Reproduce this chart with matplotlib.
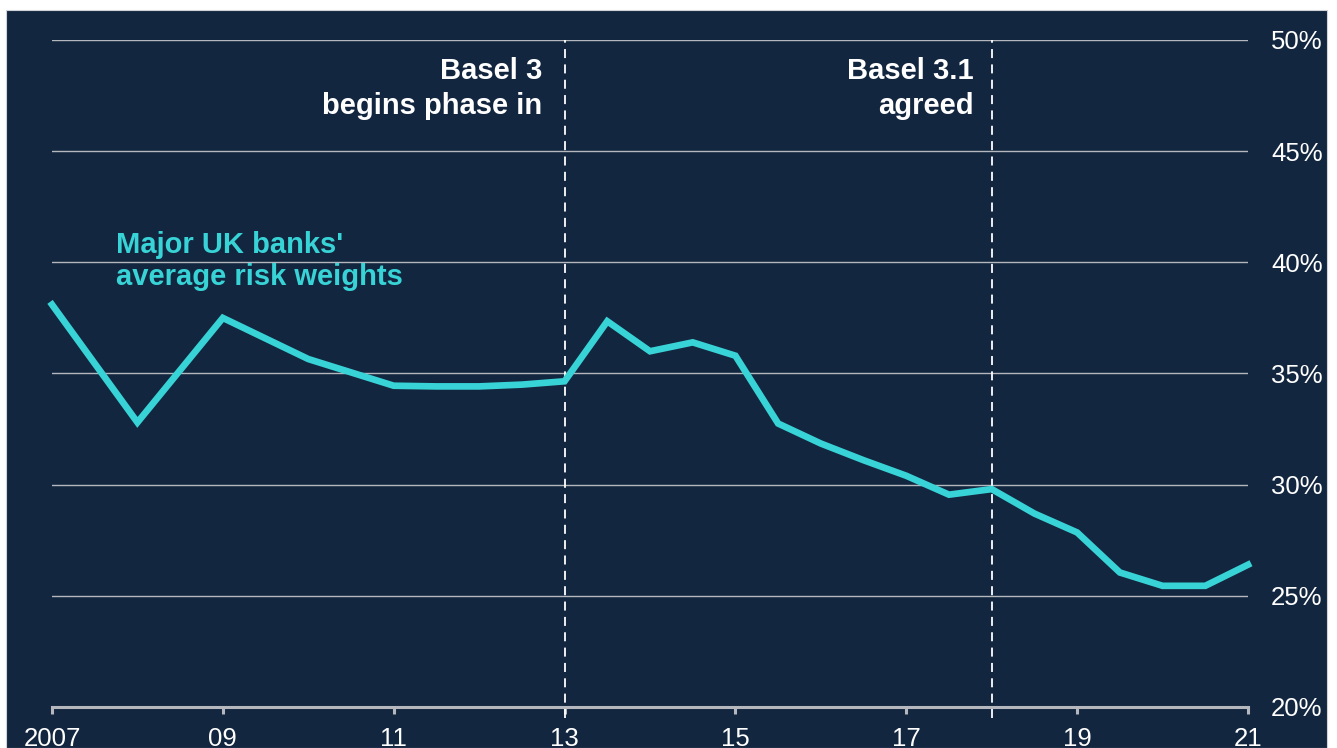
import matplotlib
matplotlib.use("Agg")
import matplotlib.pyplot as plt
from matplotlib.patches import Rectangle

# Average risk weights of major UK banks (per cent), half-yearly from 2011
years = [2007, 2008, 2009, 2010, 2011, 2011.5, 2012, 2012.5, 2013, 2013.5,
         2014, 2014.5, 2015, 2015.5, 2016, 2016.5, 2017, 2017.5, 2018,
         2018.5, 2019, 2019.5, 2020, 2020.5, 2021]
risk_weights = [38.1, 32.8, 37.5, 35.65, 34.45, 34.42, 34.42, 34.5, 34.65, 37.35,
                36.0, 36.4, 35.8, 32.75, 31.85, 31.1, 30.4, 29.55, 29.8,
                28.7, 27.85, 26.05, 25.45, 25.45, 26.4]

events = [2013, 2018]
event_labels = ["Basel 3\nbegins phase in", "Basel 3.1\nagreed"]
event_offsets = [0.265, 0.21]

xticks = [2007, 2009, 2011, 2013, 2015, 2017, 2019, 2021]
xtick_labels = ["2007", "09", "11", "13", "15", "17", "19", "21"]
yticks = [20, 25, 30, 35, 40, 45, 50]
ytick_labels = ["20%", "25%", "30%", "35%", "40%", "45%", "50%"]

NAVY = "#13263f"
TEAL = "#38d3d6"
GRID = "#b4b8be"

plt.rcParams["font.family"] = ["Liberation Sans", "DejaVu Sans"]

W, H = 1337, 748
fig = plt.figure(figsize=(W / 100, H / 100), dpi=100)
fig.patch.set_facecolor("white")
fig.patches.append(Rectangle((6 / W, 0), (1327 - 6) / W, (748 - 10) / H,
                             transform=fig.transFigure, facecolor=NAVY,
                             edgecolor="#d0d3d8", linewidth=0.8, zorder=-10))

ax = fig.add_axes([52 / W, 41 / H, (1248 - 52) / W, (706.5 - 39.5) / H])
ax.set_zorder(5)
ax.set_facecolor("none")
ax.set_xlim(2007, 2021)
ax.set_ylim(20, 50)

for y in yticks[1:]:
    ax.axhline(y, color=GRID, lw=1.0, zorder=1)

for x, lab, off in zip(events, event_labels, event_offsets):
    ax.axvline(x, ymin=-0.017, ymax=1.0, color="white", lw=1.3,
               ls=(0, (5, 3.5)), zorder=2, clip_on=False)
    ax.text(x - off, 49.25, lab, ha="right", va="top", color="white",
            fontsize=21, fontweight="bold", linespacing=1.32)

ax.plot(years, risk_weights, color=TEAL, lw=4.8, solid_joinstyle="miter",
        clip_on=False, zorder=3)

ax.text(2007.75, 41.4, "Major UK banks'\naverage risk weights", ha="left",
        va="top", color=TEAL, fontsize=21, fontweight="bold", linespacing=1.19)

for s in ["top", "left", "right"]:
    ax.spines[s].set_visible(False)
ax.spines["bottom"].set_color(GRID)
ax.spines["bottom"].set_linewidth(2.2)

ax.set_xticks(xticks)
ax.set_xticklabels(xtick_labels)
ax.tick_params(axis="x", direction="out", length=5, width=2.2, color=GRID,
               labelcolor="white", labelsize=18.5, pad=9.5)

ax.yaxis.tick_right()
ax.set_yticks(yticks)
ax.set_yticklabels(ytick_labels)
ax.tick_params(axis="y", length=0, labelcolor="white", labelsize=18.5, pad=16.5)

fig.savefig("out.png", dpi=100, facecolor=fig.get_facecolor())
